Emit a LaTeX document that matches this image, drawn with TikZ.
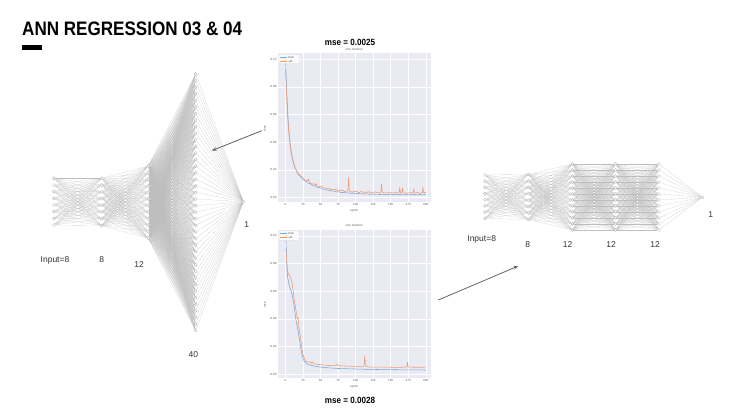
\documentclass[tikz,border=0pt]{standalone}
\usepackage{fontspec}
\setmainfont{Liberation Sans}
\usetikzlibrary{arrows.meta}
\definecolor{plotbg}{HTML}{EAEAF2}
\definecolor{trainc}{RGB}{125,165,218}
\definecolor{valc}{RGB}{235,155,115}
\definecolor{edgec}{RGB}{190,190,190}
\definecolor{labc}{RGB}{50,50,50}
\tikzset{
 neuron/.style={circle, draw=gray!70, fill=white, line width=0.3pt, minimum size=3pt, inner sep=0pt},
 edge/.style={draw=edgec, line width=0.1pt},
 laylabel/.style={font=\fontsize{8.5}{10}\selectfont, text=labc, inner sep=0pt},
 pointer/.style={draw=gray!80!black, line width=0.8pt, -{Stealth[length=5pt,width=3.5pt]}},
 tick/.style={font=\fontsize{3}{3.5}\selectfont, text=gray!70!black, inner sep=0.5pt},
 gridline/.style={draw=white, line width=0.4pt},
 trainline/.style={draw=trainc, line width=0.55pt, line join=round},
 valline/.style={draw=valc, line width=0.55pt, line join=round},
 charttitle/.style={font=\bfseries\fontsize{9}{10}\selectfont, inner sep=0pt},
}
% name, x, n, ytop, ybottom
\newcommand\nnlayer[5]{%
 \foreach \i in {1,...,#3}{%
  \pgfmathsetmacro\yy{#4+(\i-1)*(#5-#4)/max(#3-1,1)}%
  \node[neuron] (#1-\i) at (#2,\yy) {};}}
% layer a, na, layer b, nb
\newcommand\nnedges[4]{%
 \foreach \i in {1,...,#2}{\foreach \j in {1,...,#4}{\draw[edge] (#1-\i) -- (#3-\j);}}}
% chart frame, prefix
\newcommand\lossframe[1]{%
 \fill[plotbg] (-11.1,-0.3) rectangle (207.1,10.43);
 \foreach \t in {0,25,...,200} {\draw[gridline] (\t,-0.3) -- (\t,10.43);}
 \foreach \v in {0,2,...,10} {\draw[gridline] (-11.1,\v) -- (207.1,\v);}
 \foreach \t in {0,25,...,200} {\node[tick, anchor=north] (#1x\t) at (\t,-0.36) {\t};}
 \foreach \v/\l in {0/0.00,2/0.02,4/0.04,6/0.06,8/0.08,10/0.10} {\node[tick, anchor=east] (#1y\v) at (-11.8,\v) {\l};}
 \node[tick] (#1xl) at (98,-0.95) {epoch};
 \node[tick, rotate=90] (#1yl) at (-29,5) {mse};
 \node[tick] (#1tt) at (98,10.75) {loss function};
}
\newcommand\losslegend[1]{%
 \draw[fill=white, fill opacity=0.8, draw=gray!30, line width=0.2pt, rounded corners=0.5pt] (-9.3,9.68) rectangle (19.3,10.36);
 \draw[trainline] (-7.8,10.15) -- (1.5,10.15);
 \node[tick, anchor=west] (#1lt) at (3,10.15) {train};
 \draw[valline] (-7.8,9.88) -- (1.5,9.88);
 \node[tick, anchor=west] (#1lv) at (3,9.88) {val};
}
\begin{document}
\begin{tikzpicture}[x=1pt,y=-1pt]
\useasboundingbox (0,0) rectangle (730,411);
\fill[white] (0,0) rectangle (730,411);

% title
\node[anchor=base west, inner sep=0pt, font=\bfseries\fontsize{19.5}{22}\selectfont] (title) at (22,36) {\scalebox{0.875}[1]{ANN REGRESSION 03 \& 04}};
\fill[black] (22,45) rectangle (42,50);

% left network
\nnlayer{A1}{54}{8}{178.3}{225}
\nnlayer{A2}{101.7}{8}{178.3}{225.5}
\nnlayer{A3}{148.3}{12}{166}{238.3}
\nnlayer{A4}{195.7}{40}{74}{330.7}
\nnlayer{A5}{243.3}{1}{201.7}{201.7}
\nnedges{A1}{8}{A2}{8}
\nnedges{A2}{8}{A3}{12}
\nnedges{A3}{12}{A4}{40}
\nnedges{A4}{40}{A5}{1}
\node[laylabel] (lA1) at (55,260) {Input=8};
\node[laylabel] (lA2) at (101.7,260) {8};
\node[laylabel] (lA3) at (139,265) {12};
\node[laylabel] (lA4) at (193.3,355) {40};
\node[laylabel] (lA5) at (246.7,225) {1};

% right network
\nnlayer{B1}{485}{8}{175}{218.3}
\nnlayer{B2}{528.3}{8}{174.5}{219.5}
\nnlayer{B3}{572.3}{12}{164}{230}
\nnlayer{B4}{615.7}{12}{164}{230}
\nnlayer{B5}{659}{12}{164}{230}
\nnlayer{B6}{702.3}{1}{197.3}{197.3}
\nnedges{B1}{8}{B2}{8}
\nnedges{B2}{8}{B3}{12}
\nnedges{B3}{12}{B4}{12}
\nnedges{B4}{12}{B5}{12}
\nnedges{B5}{12}{B6}{1}
\node[laylabel] (lB1) at (481.7,239.3) {Input=8};
\node[laylabel] (lB2) at (527.7,244.3) {8};
\node[laylabel] (lB3) at (567.7,244.3) {12};
\node[laylabel] (lB4) at (611,244.3) {12};
\node[laylabel] (lB5) at (655,244.3) {12};
\node[laylabel] (lB6) at (710.7,214.3) {1};

% top chart
\node[charttitle] (t1) at (350,42.7) {\scalebox{0.9}[1]{mse = 0.0025}};
\begin{scope}[shift={(285.5,197.5)}, x=0.701pt, y=13.82pt]
 \lossframe{c1}
 \draw[trainline] plot[domain=0:200, samples=201] (\x, {0.2+7.5*exp(-\x/4.5)+2.5*exp(-\x/30)+0.015*sin(\x*53)});
 \draw[valline] plot[domain=0:200, samples=201] (\x, {0.33+6.6*exp(-\x/4.5)+2.4*exp(-\x/30)+0.03*sin(\x*37)+0.02*sin(\x*71)
   +1.0*max(0,1-abs(\x-90))+0.6*max(0,1-abs(\x-137))+0.4*max(0,1-abs(\x-163))+0.35*max(0,1-abs(\x-167))
   +0.3*max(0,1-abs(\x-183))+0.4*max(0,1-abs(\x-196))+0.2*max(0,1-abs(\x-33))+0.15*max(0,1-abs(\x-44))});
 \losslegend{c1}
\end{scope}

% bottom chart
\node[charttitle] (t2) at (350,400.7) {\scalebox{0.9}[1]{mse = 0.0028}};
\begin{scope}[shift={(285.5,374)}, x=0.701pt, y=13.82pt]
 \lossframe{c2}
 \draw[trainline] plot coordinates {(0,10.3) (1,9.2) (2,7.8) (3,7.0) (5,6.5) (8,6.0) (10,5.6) (12,5.0) (14,4.2) (16,3.6) (18,3.1) (20,2.5) (22,1.8) (24,1.3) (26,1.0) (28,0.85) (30,0.75) (35,0.65) (40,0.58) (50,0.5) (60,0.45) (75,0.4) (100,0.36) (125,0.33) (150,0.31) (175,0.3) (200,0.29)};
 \draw[valline] plot coordinates {(0,9.0) (1,8.8) (2,8.0) (3,7.4) (5,7.2) (7,7.0) (9,6.7) (11,6.0) (13,5.2) (15,4.6) (17,4.0) (18,4.1) (19,3.5) (21,2.8) (23,2.0) (25,1.4) (27,1.1) (29,0.95) (31,0.85) (34,0.9) (36,0.78) (38,0.9) (40,0.75) (45,0.7) (50,0.68) (60,0.62) (70,0.6) (73,0.7) (76,0.6) (85,0.58) (100,0.55) (110,0.55) (112,0.6) (113,1.3) (114,0.6) (120,0.5) (140,0.5) (160,0.48) (173,0.5) (174,0.85) (175,0.5) (190,0.48) (200,0.5)};
 \losslegend{c2}
\end{scope}

% arrows
\coordinate (a1s) at (261.7,130.7);
\coordinate (a1e) at (211.7,150.7);
\draw[pointer] (a1s) -- (a1e);
\coordinate (a2s) at (438.3,300);
\coordinate (a2e) at (518.3,266);
\draw[pointer] (a2s) -- (a2e);
\end{tikzpicture}
\end{document}
